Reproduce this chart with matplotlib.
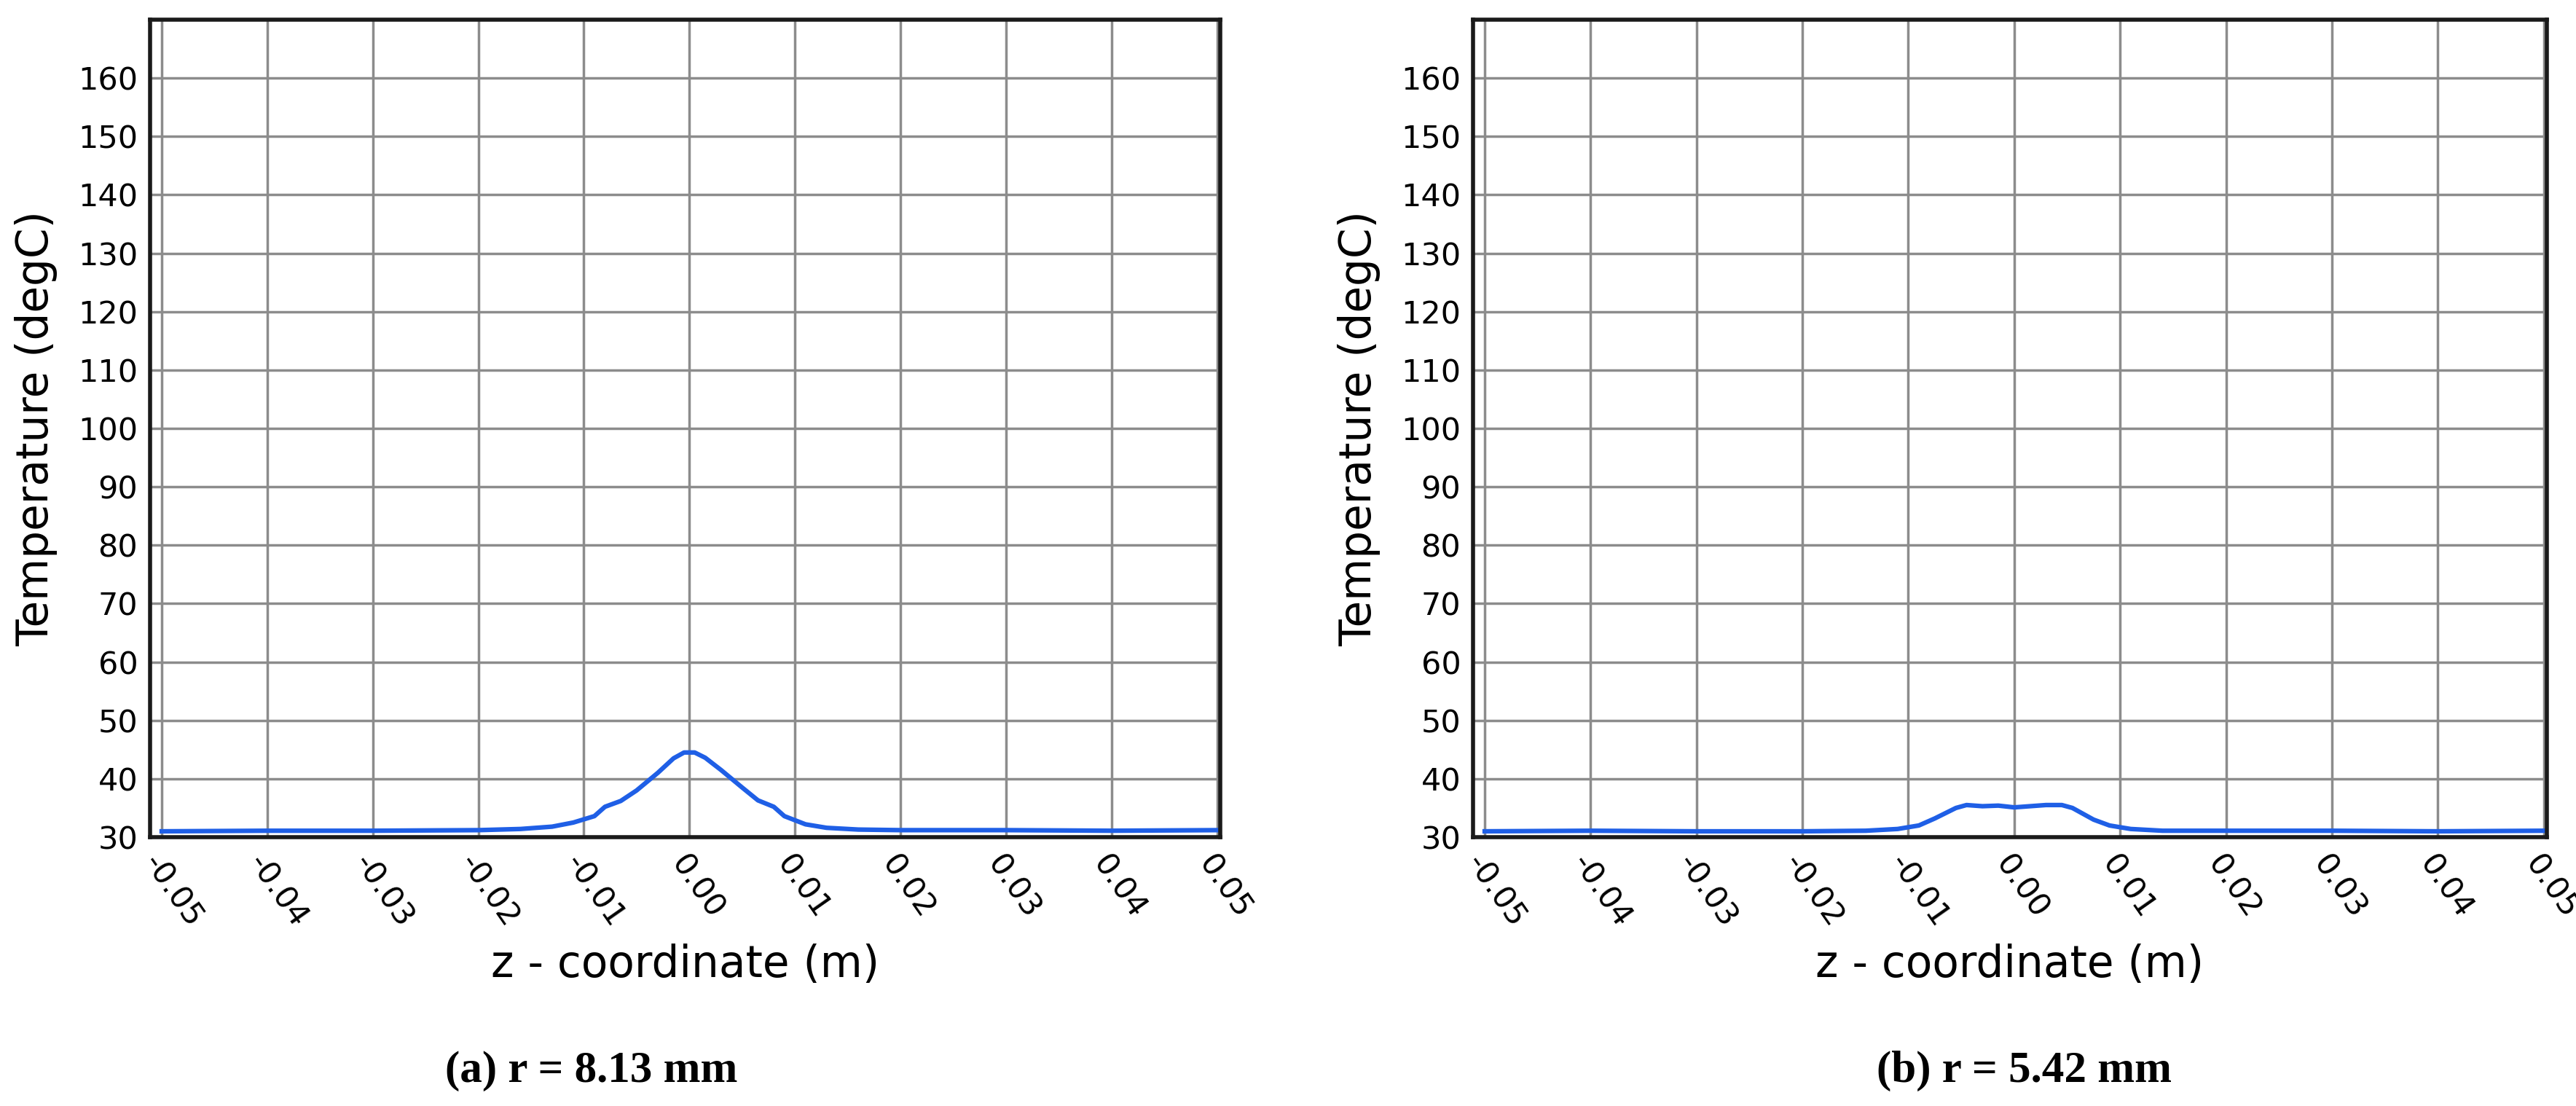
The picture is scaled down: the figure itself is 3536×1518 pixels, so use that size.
import matplotlib
matplotlib.use("Agg")
import matplotlib.pyplot as plt
import numpy as np

z_a = [-0.05,-0.04,-0.03,-0.02,-0.016,-0.013,-0.011,-0.009,-0.008,-0.0065,-0.005,-0.003,-0.0015,-0.0005,0.0005,0.0015,0.003,0.005,0.0065,0.008,0.009,0.011,0.013,0.016,0.02,0.03,0.04,0.05]
t_a = [31.0,31.1,31.1,31.2,31.4,31.8,32.5,33.6,35.2,36.2,38.0,41.0,43.5,44.5,44.5,43.6,41.5,38.5,36.3,35.2,33.6,32.2,31.6,31.3,31.2,31.2,31.1,31.2]
z_b = [-0.05,-0.04,-0.03,-0.02,-0.014,-0.011,-0.009,-0.0075,-0.0055,-0.0045,-0.003,-0.0015,0.0,0.0015,0.003,0.0045,0.0055,0.0075,0.009,0.011,0.014,0.02,0.03,0.04,0.05]
t_b = [31.0,31.1,31.0,31.0,31.1,31.4,32.0,33.2,35.0,35.5,35.3,35.4,35.1,35.3,35.5,35.5,35.0,33.0,32.0,31.4,31.1,31.1,31.1,31.0,31.1]
yticks = list(range(30, 161, 10))
xticks = [-0.05,-0.04,-0.03,-0.02,-0.01,0.0,0.01,0.02,0.03,0.04,0.05]
captions = ["(a) r = 8.13 mm", "(b) r = 5.42 mm"]

fig = plt.figure(figsize=(35.36, 15.18), dpi=100)
axes = [fig.add_axes([206/3536, 1-1149/1518, 1469/3536, 1122/1518]),
        fig.add_axes([2022/3536, 1-1149/1518, 1474/3536, 1122/1518])]
for ax, z, t, cap, cx in zip(axes, [z_a, z_b], [t_a, t_b], captions, [812/3536, 2778/3536]):
    ax.plot(z, t, color="#1f5fe6", lw=4.5)
    ax.set_xlim(-0.0511, 0.0503)
    ax.set_ylim(30, 170)
    ax.set_yticks(yticks)
    ax.set_xticks(xticks)
    ax.set_xticklabels([f"{v:.2f}" for v in xticks], rotation=-55, ha="left", rotation_mode="anchor")
    ax.tick_params(labelsize=31, length=0, pad=12)
    ax.grid(True, color="#8c8c8c", lw=2.5)
    for s in ax.spines.values():
        s.set_linewidth(4)
        s.set_color("#1a1a1a")
    ax.set_ylabel("Temperature (degC)", fontsize=43, labelpad=20)
    ax.set_xlabel("z - coordinate (m)", fontsize=43, labelpad=10)
    fig.text(cx, 1-1470/1518, cap, ha="center", va="center", fontsize=44,
             family="Liberation Serif", weight="bold")
fig.savefig("out.png", dpi=100)
